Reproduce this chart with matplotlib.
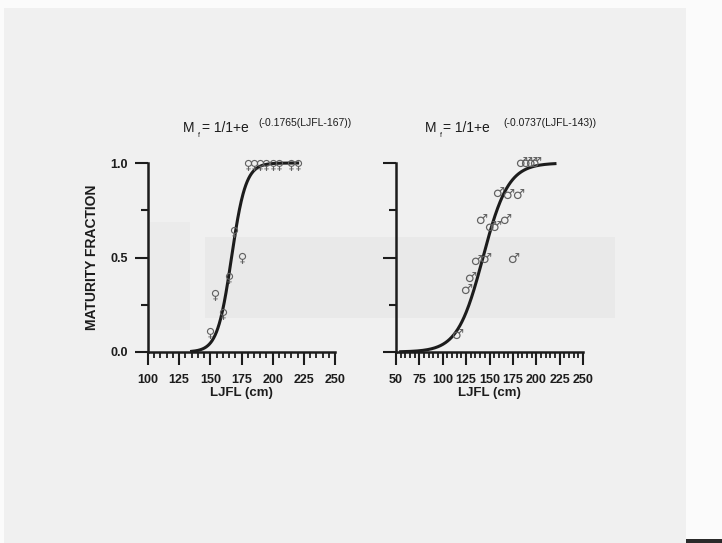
import numpy as np
import matplotlib
matplotlib.use("Agg")
import matplotlib.pyplot as plt
from matplotlib.patches import Rectangle
from matplotlib.textpath import TextPath
from matplotlib.font_manager import FontProperties
from matplotlib.path import Path
from matplotlib.ticker import MultipleLocator

# Самки (левая панель)
fem_len = [150, 154, 160, 165, 169, 175, 180, 185, 190, 195, 200, 205, 215, 220]
fem_frac = [0.11, 0.31, 0.21, 0.40, 0.645, 0.51, 1, 1, 1, 1, 1, 1, 1, 1]

# Самцы (правая панель)
male_len = [114, 124, 128, 134, 144, 140, 149, 155, 165, 158, 169, 179, 174, 183, 188, 193, 198]
male_frac = [0.09, 0.33, 0.39, 0.48, 0.49, 0.70, 0.66, 0.66, 0.70, 0.84, 0.83, 0.83, 0.49, 1, 1, 1, 1]

# Параметры логистических кривых
fem_k, fem_l50 = 0.1765, 167
male_k, male_l50 = 0.0737, 143
fem_range = (135, 220)
male_range = (55, 220)

fem_title = "(-0.1765(LJFL-167))"
male_title = "(-0.0737(LJFL-143))"
fem_xticks = [100, 125, 150, 175, 200, 225, 250]
male_xticks = [50, 75, 100, 125, 150, 175, 200, 225, 250]

W, H = 722, 543
BG = "#f0f0f0"
INK = "#1c1c1c"
plt.rcParams['font.family'] = ['Liberation Sans', 'DejaVu Sans']

fig = plt.figure(figsize=(W / 100, H / 100), dpi=100, facecolor=BG)


def px(x, y):
    return x / W, 1 - y / H


def rect(x0, y0, x1, y1, color):
    fig.patches.append(Rectangle((x0 / W, 1 - y1 / H), (x1 - x0) / W, (y1 - y0) / H,
                                 transform=fig.transFigure, color=color, zorder=-5, lw=0))


# следы сканирования
rect(0, 0, W, 8, "#fbfbfb")
rect(0, 0, 4, H, "#fbfbfb")
rect(686, 0, W, H, "#fbfbfb")
rect(686, 539, W, H, "#2a2a2a")
rect(205, 237, 615, 318, "#e9e9e9")
rect(150, 222, 190, 330, "#ebebeb")


def glyph_marker(ch, male):
    tp = TextPath((0, 0), ch, size=10, prop=FontProperties(family='DejaVu Sans'))
    ext = tp.get_extents()
    w = ext.width
    if male:
        d = 0.70 * w
        cx, cy = ext.x0 + d / 2, ext.y0 + d / 2
    else:
        d = w
        cx, cy = (ext.x0 + ext.x1) / 2, ext.y1 - w / 2
    verts = tp.vertices - [cx, cy]
    m = np.max(np.abs(verts))
    D = 5.2  # диаметр кружка в pt
    return Path(verts, tp.codes), 2 * D * m / d


def logistic(x, k, l50):
    return 1 / (1 + np.exp(-k * (x - l50)))


def make_axes(left_px, xmin, xticks, lens, fracs, k, l50, rng, ch, male, ylabels):
    x0, y0 = px(left_px, 352)
    x1, y1 = px(left_px + 187, 163)
    ax = fig.add_axes([x0, y0, x1 - x0, y1 - y0])
    ax.set_facecolor("none")
    ax.set_xlim(xmin, 250)
    ax.set_ylim(0, 1)
    for s in ["top", "right"]:
        ax.spines[s].set_visible(False)
    for s in ["left", "bottom"]:
        ax.spines[s].set_linewidth(1.8)
        ax.spines[s].set_color(INK)
    ax.set_xticks(xticks)
    ax.xaxis.set_minor_locator(MultipleLocator(5))
    ax.set_yticks([0, 0.5, 1.0])
    ax.yaxis.set_minor_locator(MultipleLocator(0.25))
    ax.tick_params(axis="x", which="major", length=9.5, width=1.5, pad=6, color=INK)
    ax.tick_params(axis="x", which="minor", length=4.5, width=1.3, color=INK)
    ax.tick_params(axis="y", which="major", length=9.5, width=1.5, pad=5, color=INK)
    ax.tick_params(axis="y", which="minor", length=5, width=1.5, color=INK)
    ax.tick_params(labelsize=9, labelcolor=INK)
    for lab in ax.get_xticklabels() + ax.get_yticklabels():
        lab.set_fontweight("bold")
    if ylabels:
        ax.set_yticklabels(["0.0", "0.5", "1.0"])
        ax.set_ylabel("MATURITY FRACTION", fontsize=10, fontweight="bold", labelpad=8, color=INK)
    else:
        ax.set_yticklabels([])
    ax.set_xlabel("LJFL (cm)", fontsize=9.5, fontweight="bold", labelpad=1, color=INK)

    xx = np.linspace(rng[0], rng[1], 300)
    ax.plot(xx, logistic(xx, k, l50), color=INK, lw=2.2, clip_on=False, zorder=3)
    mk, ms = glyph_marker(ch, male)
    ax.plot(lens, fracs, ls="none", marker=mk, ms=ms, mfc="#606060", mec="none",
            clip_on=False, zorder=4)
    return ax


make_axes(148, 100, fem_xticks, fem_len, fem_frac, fem_k, fem_l50, fem_range, "\u2640", False, True)
make_axes(396, 50, male_xticks, male_len, male_frac, male_k, male_l50, male_range, "\u2642", True, False)


def formula(mx, eq_x, sup_x, sup):
    fig.text(*px(mx, 132), "M", fontsize=10, color=INK, va="baseline")
    fig.text(*px(mx + 15, 137), "f", fontsize=5, color=INK, va="baseline")
    fig.text(*px(eq_x, 132), "= 1/1+e", fontsize=10, color=INK, va="baseline")
    fig.text(*px(sup_x, 126), sup, fontsize=7.5, color=INK, va="baseline")


formula(183, 202, 258, fem_title)
formula(425, 443, 503, male_title)

fig.savefig("out.png", dpi=100, facecolor=BG)
